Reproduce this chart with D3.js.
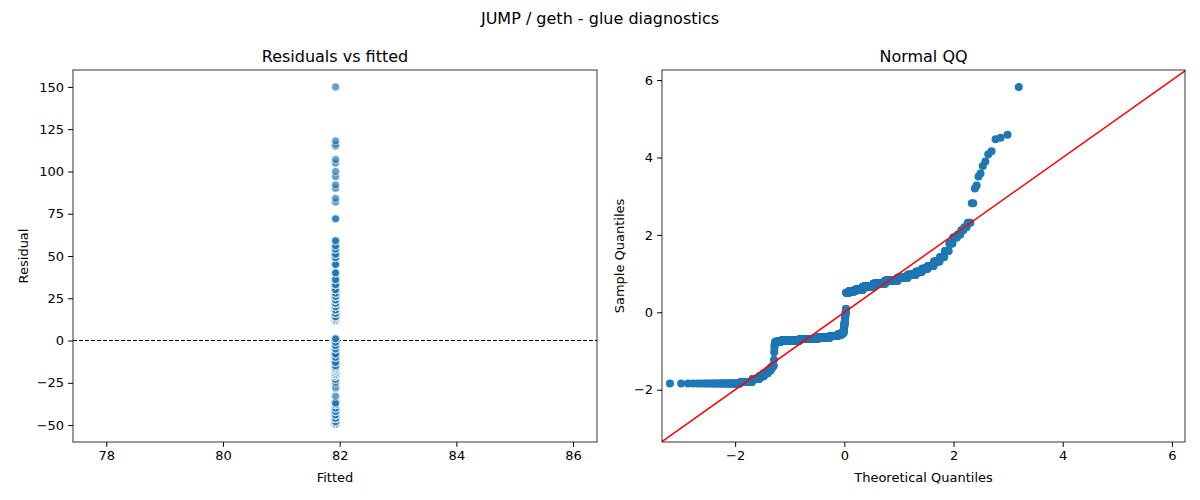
<!DOCTYPE html>
<html>
<head>
<meta charset="utf-8">
<script src="https://cdn.jsdelivr.net/npm/d3@7"></script>
<style>
  body { margin: 0; background: #fff; }
  svg text { font-family: "DejaVu Sans", sans-serif; fill: #000; }
</style>
</head>
<body>
<svg id="chart" width="1200" height="500"></svg>
<script>
// Residual values (fitted is constant) and how many observations share each value
const fittedValue = 81.93;
const residualValues = [-49, -48, -46, -44, -42, -40, -38, -37, -33, -28, -25,
  -23, -21, -20, -19, -18, -17, -16, -15, -13, -10, -8, -5, -3, -1, 1,
  12, 13, 14, 16, 18, 20, 22, 24, 26, 28, 30, 33, 36, 40, 45, 49,
  51, 54, 56, 59, 72, 82, 84, 90, 92, 97, 100, 105, 107, 115, 116, 118, 150];
const residualCounts = [40, 25, 20, 15, 15, 12, 8, 5, 1, 1, 1,
  3, 30, 120, 150, 120, 80, 40, 20, 5, 5, 4, 4, 3, 3, 3,
  30, 60, 80, 100, 100, 90, 60, 40, 25, 20, 18, 15, 10, 8, 6, 6,
  4, 3, 3, 3, 2, 1, 1, 1, 1, 1, 1, 1, 1, 1, 1, 1, 1];

const leftXTicks = [78, 80, 82, 84, 86];
const leftYTicks = [-50, -25, 0, 25, 50, 75, 100, 125, 150];
const rightXTicks = [-2, 0, 2, 4, 6];
const rightYTicks = [-2, 0, 2, 4, 6];

const blue = '#1f77b4';
const svg = d3.select('#chart');

// expand counts into the full residual list
const residuals = [];
residualValues.forEach((v, i) => { for (let k = 0; k < residualCounts[i]; k++) residuals.push(v); });

// inverse normal CDF (Acklam)
function probit(p) {
  const a = [-3.969683028665376e+01, 2.209460984245205e+02, -2.759285104469687e+02, 1.383577518672690e+02, -3.066479806614716e+01, 2.506628277459239e+00];
  const b = [-5.447609879822406e+01, 1.615858368580409e+02, -1.556989798598866e+02, 6.680131188771972e+01, -1.328068155288572e+01];
  const c = [-7.784894002430293e-03, -3.223964580411365e-01, -2.400758277161838e+00, -2.549732539343734e+00, 4.374664141464968e+00, 2.938163982698783e+00];
  const d = [7.784695709041462e-03, 3.224671290700398e-01, 2.445134137142996e+00, 3.754408661907416e+00];
  const pl = 0.02425;
  if (p < pl) {
    const q = Math.sqrt(-2 * Math.log(p));
    return (((((c[0]*q+c[1])*q+c[2])*q+c[3])*q+c[4])*q+c[5]) / ((((d[0]*q+d[1])*q+d[2])*q+d[3])*q+1);
  }
  if (p > 1 - pl) {
    const q = Math.sqrt(-2 * Math.log(1 - p));
    return -(((((c[0]*q+c[1])*q+c[2])*q+c[3])*q+c[4])*q+c[5]) / ((((d[0]*q+d[1])*q+d[2])*q+d[3])*q+1);
  }
  const q = p - 0.5, r = q * q;
  return (((((a[0]*r+a[1])*r+a[2])*r+a[3])*r+a[4])*r+a[5])*q / (((((b[0]*r+b[1])*r+b[2])*r+b[3])*r+b[4])*r+1);
}

// QQ points from standardized residuals
const mean = d3.mean(residuals);
const sd = d3.deviation(residuals);
const sorted = residuals.map(r => (r - mean) / sd).sort((a, b) => a - b);
const n = sorted.length;
const qq = sorted.map((s, i) => ({ t: probit((i + 1) / (n + 1)), s }));

// title
svg.append('text').attr('x', 600).attr('y', 24).attr('text-anchor', 'middle')
  .style('font-size', '16px').text('JUMP / geth - glue diagnostics');

function drawAxes(g, x, y, xTicks, yTicks, w, h, title, xLabel, yLabel) {
  g.append('g').attr('transform', `translate(0,${h})`)
    .call(d3.axisBottom(x).tickValues(xTicks).tickSize(4.9).tickPadding(4).tickSizeOuter(0))
    .call(a => a.selectAll('text').style('font-size', '13px'));
  g.append('g')
    .call(d3.axisLeft(y).tickValues(yTicks).tickSize(4.9).tickPadding(4).tickSizeOuter(0))
    .call(a => a.selectAll('text').style('font-size', '13px'));
  g.selectAll('.domain').remove();
  g.append('rect').attr('width', w).attr('height', h)
    .attr('fill', 'none').attr('stroke', '#000').attr('stroke-width', 0.8);
  g.append('text').attr('x', w / 2).attr('y', -8).attr('text-anchor', 'middle')
    .style('font-size', '16px').text(title);
  g.append('text').attr('x', w / 2).attr('y', h + 40).attr('text-anchor', 'middle')
    .style('font-size', '13px').text(xLabel);
  g.append('text').attr('transform', `translate(${yLabel === 'Residual' ? -45 : -38},${h / 2}) rotate(-90)`)
    .attr('text-anchor', 'middle').style('font-size', '13px').text(yLabel);
}

// left panel: residuals vs fitted
const L = { x: 73, y: 70, w: 524, h: 372 };
const gl = svg.append('g').attr('transform', `translate(${L.x},${L.y})`);
const xl = d3.scaleLinear().domain([77.43, 86.41]).range([0, L.w]);
const yl = d3.scaleLinear().domain([-60, 160]).range([L.h, 0]);
gl.append('line').attr('x1', 0).attr('x2', L.w).attr('y1', yl(0)).attr('y2', yl(0))
  .attr('stroke', '#000').attr('stroke-dasharray', '4,2').attr('stroke-width', 1.1);
gl.selectAll('circle').data(residuals).enter().append('circle')
  .attr('cx', xl(fittedValue)).attr('cy', d => yl(d)).attr('r', 4)
  .attr('fill', blue).attr('fill-opacity', 0.7)
  .attr('stroke', '#fff').attr('stroke-width', 0.6);
drawAxes(gl, xl, yl, leftXTicks, leftYTicks, L.w, L.h, 'Residuals vs fitted', 'Fitted', 'Residual');

// right panel: normal QQ
const R = { x: 662, y: 70, w: 523, h: 372 };
const gr = svg.append('g').attr('transform', `translate(${R.x},${R.y})`);
const xr = d3.scaleLinear().domain([-3.34, 6.24]).range([0, R.w]);
const yr = d3.scaleLinear().domain([-3.35, 6.26]).range([R.h, 0]);
gr.selectAll('circle').data(qq).enter().append('circle')
  .attr('cx', d => xr(d.t)).attr('cy', d => yr(d.s)).attr('r', 4).attr('fill', blue);
const lo = Math.max(xr.domain()[0], yr.domain()[0]), hi = Math.min(xr.domain()[1], yr.domain()[1]);
gr.append('line').attr('x1', xr(lo)).attr('y1', yr(lo)).attr('x2', xr(hi)).attr('y2', yr(hi))
  .attr('stroke', 'red').attr('stroke-width', 1.5);
drawAxes(gr, xr, yr, rightXTicks, rightYTicks, R.w, R.h, 'Normal QQ', 'Theoretical Quantiles', 'Sample Quantiles');
</script>
</body>
</html>
